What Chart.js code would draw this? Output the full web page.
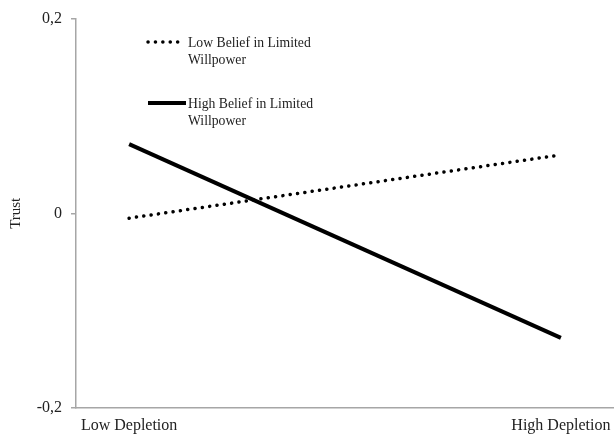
<!DOCTYPE html>
<html>
<head>
<meta charset="utf-8">
<script src="https://cdn.jsdelivr.net/npm/chart.js@4/dist/chart.umd.min.js"></script>
<style>
  html, body { margin: 0; padding: 0; background: #fff; }
  #wrap { width: 614px; height: 436px; }
</style>
</head>
<body>
<div id="wrap"><canvas id="c" width="614" height="436"></canvas></div>
<script>
// Conditions on the x axis
const categories = ['Low Depletion', 'High Depletion'];
// Simple slopes for trust
const lowBelief = [-0.005, 0.060];
const highBelief = [0.071, -0.128];
const seriesNames = [['Low Belief in Limited', 'Willpower'], ['High Belief in Limited', 'Willpower']];
const yTicks = [-0.2, 0, 0.2];

const serif = "'Liberation Serif', 'Times New Roman', serif";
const axisGray = '#a6a6a6';

// Legend drawn inside the plot, upper-left, two-line labels
const innerLegend = {
  id: 'innerLegend',
  afterDraw(chart) {
    const ctx = chart.ctx;
    const rows = [
      { ds: chart.data.datasets[0], y: 42, x0: 148, x1: 181 },
      { ds: chart.data.datasets[1], y: 103, x0: 148, x1: 186 }
    ];
    ctx.save();
    rows.forEach((r, i) => {
      ctx.beginPath();
      ctx.strokeStyle = r.ds.borderColor;
      ctx.lineWidth = r.ds.borderWidth;
      ctx.lineCap = r.ds.borderCapStyle || 'butt';
      ctx.setLineDash(r.ds.borderDash || []);
      ctx.moveTo(r.x0, r.y);
      ctx.lineTo(r.x1, r.y);
      ctx.stroke();
      ctx.setLineDash([]);
      ctx.fillStyle = '#222';
      ctx.font = '13.7px ' + serif;
      ctx.textBaseline = 'middle';
      ctx.textAlign = 'left';
      seriesNames[i].forEach((t, k) => ctx.fillText(t, 188, r.y + 1 + k * 17));
    });
    ctx.restore();
  }
};

const toPoints = vals => vals.map((v, i) => ({ x: i, y: v }));

new Chart(document.getElementById('c'), {
  type: 'line',
  data: {
    datasets: [
      {
        label: seriesNames[0].join(' '),
        data: toPoints(lowBelief),
        borderColor: '#000',
        borderWidth: 3.5,
        borderDash: [0.1, 7.3],
        borderCapStyle: 'round',
        pointRadius: 0,
        fill: false
      },
      {
        label: seriesNames[1].join(' '),
        data: toPoints(highBelief),
        borderColor: '#000',
        borderWidth: 4,
        borderCapStyle: 'butt',
        pointRadius: 0,
        fill: false
      }
    ]
  },
  options: {
    responsive: false,
    animation: false,
    layout: { padding: { top: 16, right: 0, left: 0, bottom: 0 } },
    plugins: { legend: { display: false }, tooltip: { enabled: false } },
    scales: {
      x: {
        type: 'linear',
        min: -0.123,
        max: 1.123,
        afterBuildTicks: s => { s.ticks = categories.map((_, i) => ({ value: i })); },
        afterFit: s => { s.height = 28; s.paddingLeft = 0; s.paddingRight = 0; },
        grid: { display: false, drawTicks: false },
        border: { display: true, color: axisGray, width: 1.5 },
        ticks: {
          padding: 8,
          color: '#222',
          font: { family: serif, size: 16 },
          maxRotation: 0,
          autoSkip: false,
          callback: v => categories[v]
        }
      },
      y: {
        min: -0.2,
        max: 0.2,
        afterBuildTicks: s => { s.ticks = yTicks.map(v => ({ value: v })); },
        afterFit: s => { s.width = 76; },
        grid: { drawOnChartArea: false, drawTicks: true, tickLength: 5, color: axisGray, lineWidth: 1.5 },
        border: { display: true, color: axisGray, width: 1.5 },
        title: {
          display: true,
          text: 'Trust',
          color: '#222',
          font: { family: serif, size: 15 },
          padding: { top: 7, bottom: 0 }
        },
        ticks: {
          padding: 9,
          color: '#222',
          font: { family: serif, size: 16 },
          callback: v => (v === 0 ? '0' : String(v).replace('.', ','))
        }
      }
    }
  },
  plugins: [innerLegend]
});
</script>
</body>
</html>
